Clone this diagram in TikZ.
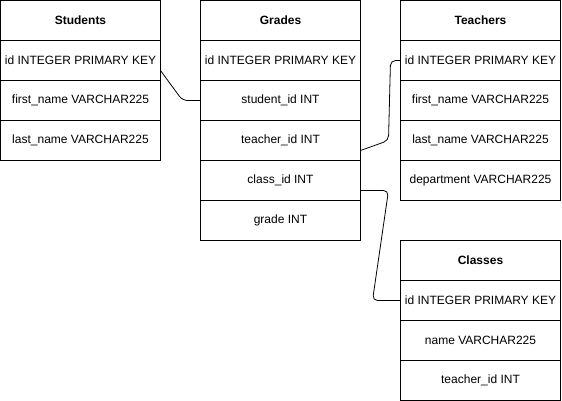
\documentclass[tikz,border=0pt]{standalone}
\usepackage{fontspec}
\setmainfont{Liberation Sans}
\usetikzlibrary{positioning, calc}
\tikzset{
  tablehead/.style={
    draw,
    rectangle,
    line width=1pt,
    minimum width=160pt,
    minimum height=40pt,
    outer sep=0pt,
    inner sep=0pt,
    align=center,
    font=\fontsize{12pt}{14pt}\selectfont\bfseries
  },
  tablerow/.style={
    tablehead,
    font=\fontsize{12pt}{14pt}\selectfont
  },
  link/.style={
    draw,
    line width=0.8pt,
    rounded corners=5pt
  }
}
\begin{document}
\begin{tikzpicture}[x=1pt, y=-1pt]
        \useasboundingbox (0,0) rectangle (562,401);
        % Students
        \node[tablehead] (stud) at (80.5,20.5) {Students};
        \node[tablerow, below=0pt of stud] (studid) {id INTEGER PRIMARY KEY};
        \node[tablerow, below=0pt of studid] (studfirst) {first\_name VARCHAR225};
        \node[tablerow, below=0pt of studfirst] (studlast) {last\_name VARCHAR225};
        
        % Grades
        \node[tablehead] (grad) at (280.5,20.5) {Grades};
        \node[tablerow, below=0pt of grad] (gradid) {id INTEGER PRIMARY KEY};
        \node[tablerow, below=0pt of gradid] (gradstud) {student\_id INT};
        \node[tablerow, below=0pt of gradstud] (gradteach) {teacher\_id INT};
        \node[tablerow, below=0pt of gradteach] (gradclass) {class\_id INT};
        \node[tablerow, below=0pt of gradclass] (gradgrade) {grade INT};
        
        % Teachers
        \node[tablehead] (teach) at (480.5,20.5) {Teachers};
        \node[tablerow, below=0pt of teach] (teachid) {id INTEGER PRIMARY KEY};
        \node[tablerow, below=0pt of teachid] (teachfirst) {first\_name VARCHAR225};
        \node[tablerow, below=0pt of teachfirst] (teachlast) {last\_name VARCHAR225};
        \node[tablerow, below=0pt of teachlast] (teachdep) {department VARCHAR225};
        
        % Classes
        \node[tablehead] (class) at (480.5,260.5) {Classes};
        \node[tablerow, below=0pt of class] (classid) {id INTEGER PRIMARY KEY};
        \node[tablerow, below=0pt of classid] (classname) {name VARCHAR225};
        \node[tablerow, below=0pt of classname] (classteach) {teacher\_id INT};
        
        \draw[link] ($(studid.east)!.5!(studid.south east)$) -- ($(gradstud.west)+(-18,0)$) -- (gradstud.west);
        \draw[link] ($(gradteach.east)!.5!(gradteach.south east)$) -- ($(teachid.west)+(-12,80)$) -- ($(teachid.west)+(-10,0)$) -- (teachid.west);
        \draw[link] ($(gradclass.east)!.5!(gradclass.south east)$) -- ($(classid.west)+(-12,-110)$) -- ($(classid.west)+(-28,0)$) -- (classid.west);
      \end{tikzpicture}
\end{document}
